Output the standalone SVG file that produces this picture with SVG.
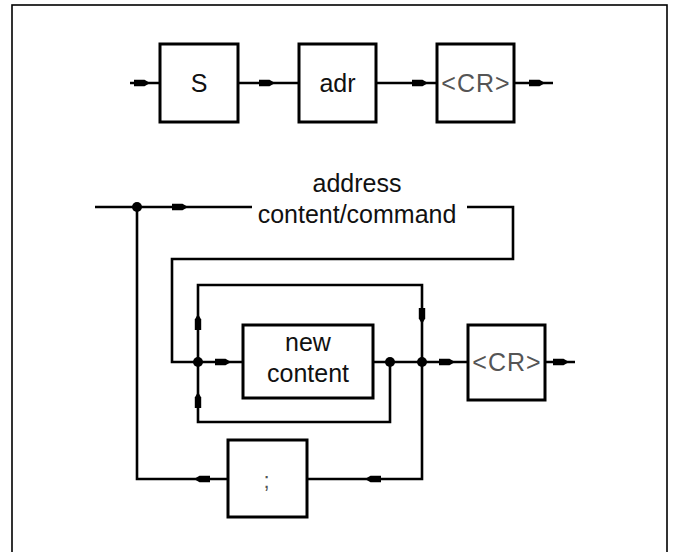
<svg xmlns="http://www.w3.org/2000/svg" xmlns:xlink="http://www.w3.org/1999/xlink" width="676" height="552" viewBox="0 0 676 552">
<style>
.frame{fill:none;stroke:#000;stroke-width:1.6}
.box{fill:#fff;stroke:#000;stroke-width:3}
.ln{fill:none;stroke:#000;stroke-width:2.6;stroke-linejoin:miter}
.t{font-family:"Liberation Sans",Arial,sans-serif;font-size:25px;fill:#111;text-anchor:middle}
.g{fill:#555;letter-spacing:1px}
.dot{fill:#000}
</style>
<defs>
<path id="arr" d="M-8,-3.2 L2.5,-3.2 L8,0 L2.5,3.2 L-8,3.2 Z" fill="#000"/>
</defs>
<rect class="frame" x="12" y="5" width="655" height="570"/>
<g id="connectors">
<path class="ln" d="M130,83 H160 M238,83 H299 M376,83 H437 M514,83 H553"/>
<path class="ln" d="M95,207 H252 M467,207 H513 V259 H172 V362 H243"/>
<path class="ln" d="M137,207 V479 H228 M307,479 H422 V362"/>
<path class="ln" d="M198,362 V285 H422 V362"/>
<path class="ln" d="M373,362 H468 M545,362 H575"/>
<path class="ln" d="M390,362 V422 H198 V362"/>
<use xlink:href="#arr" transform="translate(142,83)"/>
<use xlink:href="#arr" transform="translate(267,83)"/>
<use xlink:href="#arr" transform="translate(420,83)"/>
<use xlink:href="#arr" transform="translate(537,83)"/>
<use xlink:href="#arr" transform="translate(180,207)"/>
<use xlink:href="#arr" transform="translate(223,362)"/>
<use xlink:href="#arr" transform="translate(447,362)"/>
<use xlink:href="#arr" transform="translate(561,362)"/>
<use xlink:href="#arr" transform="translate(198,322) rotate(-90)"/>
<use xlink:href="#arr" transform="translate(422,316) rotate(90)"/>
<use xlink:href="#arr" transform="translate(198,400) rotate(-90)"/>
<use xlink:href="#arr" transform="translate(373,479) rotate(180)"/>
<use xlink:href="#arr" transform="translate(202,479) rotate(180)"/>
<circle class="dot" cx="137" cy="207" r="5"/>
<circle class="dot" cx="198" cy="362" r="5"/>
<circle class="dot" cx="390" cy="362" r="5"/>
<circle class="dot" cx="422" cy="362" r="5"/>
<text class="t" x="357" y="192">address</text>
<text class="t" x="357" y="223">content/command</text>
</g>
<g id="node-S">
<rect class="box" x="160" y="44" width="78" height="78"/>
<text class="t" x="199" y="92">S</text>
</g>
<g id="node-adr">
<rect class="box" x="299" y="44" width="77" height="78"/>
<text class="t" x="337.5" y="92">adr</text>
</g>
<g id="node-CR1">
<rect class="box" x="437" y="44" width="77" height="78"/>
<text class="t g" x="476" y="92">&lt;CR&gt;</text>
</g>
<g id="node-newcontent">
<rect class="box" x="243" y="325" width="130" height="73"/>
<text class="t" x="308" y="351">new</text>
<text class="t" x="308" y="382">content</text>
</g>
<g id="node-CR2">
<rect class="box" x="468" y="325" width="77" height="75"/>
<text class="t g" x="507" y="371">&lt;CR&gt;</text>
</g>
<g id="node-semicolon">
<rect class="box" x="228" y="440" width="79" height="77"/>
<text class="t g" x="267" y="488" style="font-size:22px">;</text>
</g>
</svg>
